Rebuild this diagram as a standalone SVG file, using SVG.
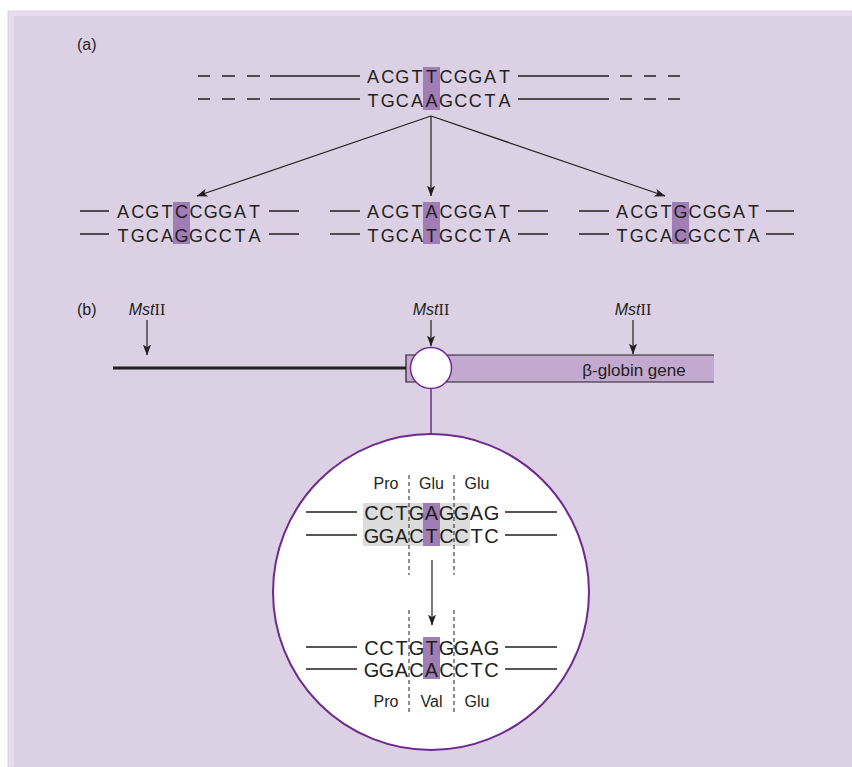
<svg xmlns="http://www.w3.org/2000/svg" width="852" height="767" viewBox="0 0 852 767">
<defs>
<style>
.seq{font-family:"Liberation Sans",Arial,sans-serif;font-size:18px;fill:#231f20;text-anchor:middle}
.seqc{font-family:"Liberation Sans",Arial,sans-serif;font-size:20px;fill:#231f20;text-anchor:middle}
.lbl{font-family:"Liberation Sans",Arial,sans-serif;font-size:16px;fill:#231f20}
.aa{font-family:"Liberation Sans",Arial,sans-serif;font-size:16px;fill:#231f20;text-anchor:middle}
.strand{stroke:#231f20;stroke-width:1.5;fill:none}
.hl{fill:#a07db5}
.arrow{stroke:#231f20;stroke-width:1.2;fill:none;marker-end:url(#ah)}
.dash{stroke:#231f20;stroke-width:1;stroke-dasharray:4,3;fill:none}
.mst{font-family:"Liberation Sans",Arial,sans-serif;font-size:16px;fill:#231f20;text-anchor:middle}
</style>
<marker id="ah" viewBox="0 0 10 10" refX="9.5" refY="5" markerWidth="11" markerHeight="11" markerUnits="userSpaceOnUse" orient="auto">
<path d="M0,1.3 L10,5 L0,8.7 L2.5,5 z" fill="#231f20"/>
</marker>
</defs>
<rect x="0" y="0" width="852" height="767" fill="#ffffff"/>
<rect x="8" y="11" width="844" height="756" fill="#e7deed" stroke="#d6c9df" stroke-width="0.8"/>
<rect x="14" y="16" width="838" height="751" fill="#dcd0e4"/>

<text class="lbl" x="77" y="50">(a)</text>
<text class="lbl" x="77" y="315">(b)</text>

<g id="original">
<rect class="hl" x="423" y="67" width="17" height="43"/>
<path class="strand" d="M198,76 H210 M222,76 H235 M247,76 H260 M270,76 H360 M518,76 H609 M620,76 H632 M644,76 H656 M668,76 H680"/>
<path class="strand" d="M198,99 H210 M222,99 H235 M247,99 H260 M270,99 H360 M518,99 H609 M620,99 H632 M644,99 H656 M668,99 H680"/>
<text class="seq" x="373.1 387.7 402.3 416.9 431.5 446.1 460.7 475.3 489.9 504.5" y="83">ACGTTCGGAT</text>
<text class="seq" x="373.1 387.7 402.3 416.9 431.5 446.1 460.7 475.3 489.9 504.5" y="107">TGCAAGCCTA</text>
</g>

<g id="mutant-c">
<rect class="hl" x="173" y="202" width="17" height="42"/>
<path class="strand" d="M80,211 H109 M269,211 H299 M80,234 H109 M269,234 H299"/>
<text class="seq" x="123.1 137.7 152.3 166.9 181.5 196.1 210.7 225.3 239.9 254.5" y="218">ACGTCCGGAT</text>
<text class="seq" x="123.1 137.7 152.3 166.9 181.5 196.1 210.7 225.3 239.9 254.5" y="242">TGCAGGCCTA</text>
</g>

<g id="mutant-a">
<rect class="hl" x="423" y="202" width="17" height="42"/>
<path class="strand" d="M330,211 H360 M518,211 H548 M330,234 H360 M518,234 H548"/>
<text class="seq" x="373.1 387.7 402.3 416.9 431.5 446.1 460.7 475.3 489.9 504.5" y="218">ACGTACGGAT</text>
<text class="seq" x="373.1 387.7 402.3 416.9 431.5 446.1 460.7 475.3 489.9 504.5" y="242">TGCATGCCTA</text>
</g>

<g id="mutant-g">
<rect class="hl" x="672" y="202" width="17" height="42"/>
<path class="strand" d="M579,211 H609 M766,211 H794 M579,234 H609 M766,234 H794"/>
<text class="seq" x="622.1 636.7 651.3 665.9 680.5 695.1 709.7 724.3 738.9 753.5" y="218">ACGTGCGGAT</text>
<text class="seq" x="622.1 636.7 651.3 665.9 680.5 695.1 709.7 724.3 738.9 753.5" y="242">TGCACGCCTA</text>
</g>

<g id="flanking-dna">
<line x1="113" y1="368" x2="407" y2="368" stroke="#231f20" stroke-width="3"/>
</g>

<g id="gene">
<rect x="406" y="355" width="308" height="27" fill="#c3a8cf"/>
<path d="M714,355 H406 V382 H714" stroke="#231f20" stroke-width="1.2" fill="none"/>
<text x="634" y="376" font-family="Liberation Sans, Arial, sans-serif" font-size="17" fill="#231f20" text-anchor="middle">β-globin gene</text>
</g>

<g id="site-circle">
<circle cx="431" cy="368" r="20.5" fill="#ffffff" stroke="#6e2a8e" stroke-width="1.5"/>
</g>

<g id="mst-left"><text class="mst" x="147" y="315"><tspan font-style="italic">Mst</tspan><tspan font-family="Liberation Serif, serif">II</tspan></text></g>
<g id="mst-mid"><text class="mst" x="431" y="315"><tspan font-style="italic">Mst</tspan><tspan font-family="Liberation Serif, serif">II</tspan></text></g>
<g id="mst-right"><text class="mst" x="633" y="315"><tspan font-style="italic">Mst</tspan><tspan font-family="Liberation Serif, serif">II</tspan></text></g>

<g id="magnified">
<circle cx="431" cy="592" r="158" fill="#ffffff" stroke="#6e2a8e" stroke-width="2"/>
<text class="aa" x="386" y="489">Pro</text>
<text class="aa" x="431.5" y="489">Glu</text>
<text class="aa" x="477" y="489">Glu</text>
<rect x="363" y="503" width="107" height="43" fill="#dcdcdc"/>
<rect class="hl" x="423" y="503" width="17" height="43"/>
<path class="strand" d="M306,512 H357 M505,512 H557 M306,535 H357 M505,535 H557"/>
<text class="seqc" x="371.5 386.5 401.5 416.5 431.5 446.5 461.5 476.5 491.5" y="520">CCTGAGGAG</text>
<text class="seqc" x="371.5 386.5 401.5 416.5 431.5 446.5 461.5 476.5 491.5" y="543">GGACTCCTC</text>
<path class="dash" d="M409,475 V575 M454,475 V575"/>
<rect class="hl" x="423" y="637" width="17" height="42"/>
<path class="strand" d="M306,647 H357 M505,647 H557 M306,669 H357 M505,669 H557"/>
<text class="seqc" x="371.5 386.5 401.5 416.5 431.5 446.5 461.5 476.5 491.5" y="655">CCTGTGGAG</text>
<text class="seqc" x="371.5 386.5 401.5 416.5 431.5 446.5 461.5 476.5 491.5" y="677">GGACACCTC</text>
<path class="dash" d="M409,610 V714 M454,610 V714"/>
<text class="aa" x="386" y="707">Pro</text>
<text class="aa" x="431.5" y="707">Val</text>
<text class="aa" x="477" y="707">Glu</text>
</g>

<g id="connectors">
<line class="arrow" x1="431" y1="116" x2="197" y2="196"/>
<line class="arrow" x1="431" y1="116" x2="431" y2="196"/>
<line class="arrow" x1="431" y1="116" x2="665" y2="196"/>
<line class="arrow" x1="147" y1="320" x2="147" y2="355"/>
<line class="arrow" x1="431" y1="320" x2="431" y2="346"/>
<line class="arrow" x1="633" y1="320" x2="633" y2="354"/>
<line x1="431" y1="389" x2="431" y2="434" stroke="#6e2a8e" stroke-width="1.5"/>
<line class="arrow" x1="432" y1="560" x2="432" y2="625"/>
</g>
</svg>
